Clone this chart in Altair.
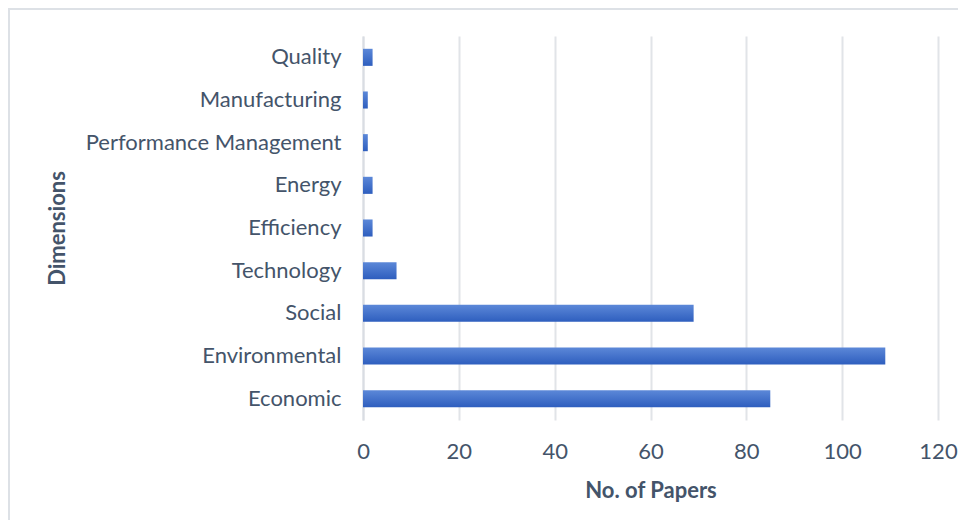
import altair as alt
import pandas as pd

categories = ["Quality", "Manufacturing", "Performance Management", "Energy",
              "Efficiency", "Technology", "Social", "Environmental", "Economic"]
papers = [2, 1, 1, 2, 2, 7, 69, 109, 85]
x_ticks = [0, 20, 40, 60, 80, 100, 120]

df = pd.DataFrame({"Dimension": categories, "Papers": papers})

TEXT = "#44546A"
FONT = "Lato"

gradient = alt.Gradient(
    gradient="linear",
    stops=[alt.GradientStop(color="#5C88D8", offset=0),
           alt.GradientStop(color="#2E5EBE", offset=1)],
    x1=0, x2=0, y1=0, y2=1,
)

bars = alt.Chart(df).mark_bar(color=gradient).encode(
    x=alt.X("Papers:Q",
            scale=alt.Scale(domain=[0, 120], nice=False),
            axis=alt.Axis(values=x_ticks, title="No. of Papers", grid=True,
                          domain=False, ticks=False, labelPadding=21,
                          labelFlush=False, titlePadding=18)),
    y=alt.Y("Dimension:N", sort=categories,
            scale=alt.Scale(paddingInner=0.6, paddingOuter=0.3),
            axis=alt.Axis(title="Dimensions", domain=True, ticks=False,
                          labelPadding=22, labelLimit=400, titleX=-294,
                          titleAngle=-90)),
)

border_top = alt.Chart(df).mark_rule(color="#DDE1E6", strokeWidth=2).encode(
    x=alt.value(-355), x2=alt.value(700), y=alt.value(-27))
border_left = alt.Chart(df).mark_rule(color="#DDE1E6", strokeWidth=2).encode(
    x=alt.value(-354), y=alt.value(-28), y2=alt.value(600))

chart = alt.layer(border_top, border_left, bars).properties(
    width=575, height=384,
    autosize=alt.AutoSizeParams(type="none"),
    padding={"left": 355, "top": 28, "right": 20, "bottom": 100},
).configure_view(stroke=None).configure_axis(
    labelFont=FONT, titleFont=FONT, labelColor=TEXT, titleColor=TEXT,
    labelFontSize=22, titleFontSize=22, titleFontWeight="bold",
    gridColor="#E1E4E8", gridWidth=2, domainColor="#D9DDE3", domainWidth=2,
)

chart.save("out.html", embed_options={"renderer": "svg", "actions": False})
